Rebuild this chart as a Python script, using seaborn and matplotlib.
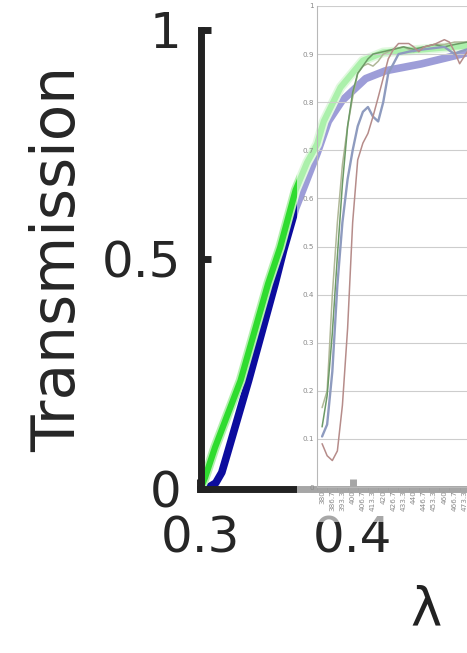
import matplotlib
matplotlib.use('Agg')
import matplotlib.pyplot as plt
import matplotlib.patheffects as pe
import seaborn as sns

# main curves (wavelength in um, transmission)
green_wl = [0.300, 0.303, 0.3095, 0.3263, 0.3444, 0.3523, 0.3625, 0.370, 0.3766,
            0.381, 0.392, 0.4066, 0.420, 0.440, 0.476]
green_t = [0.0, 0.024, 0.089, 0.235, 0.446, 0.525, 0.65, 0.71, 0.75,
           0.80, 0.874, 0.932, 0.95, 0.955, 0.965]
blue_wl = [0.300, 0.305, 0.310, 0.314, 0.318, 0.3316, 0.349, 0.3546, 0.3625, 0.3766,
           0.384, 0.393, 0.4085, 0.4215, 0.445, 0.476]
blue_t = [0.0, 0.002, 0.012, 0.035, 0.08, 0.235, 0.446, 0.519, 0.61, 0.73,
          0.80, 0.845, 0.893, 0.91, 0.925, 0.95]

x_ticks = [0.3, 0.4]
x_labels = ['0.3', '0.4']
y_ticks = [0, 0.5, 1]
y_labels = ['0', '0.5', '1']

# pasted spreadsheet chart (nm, transmission)
inset_cats = [380, 386.7, 393.3, 400, 406.7, 413.3, 420, 426.7, 433.3, 440,
              446.7, 453.3, 460, 466.7, 473.3]
inset_cat_labels = ['380', '386.7', '393.3', '400', '406.7', '413.3', '420', '426.7',
                    '433.3', '440', '446.7', '453.3', '460', '466.7', '473.3']
inset_yticks = [0, 0.1, 0.2, 0.3, 0.4, 0.5, 0.6, 0.7, 0.8, 0.9, 1]
inset_ylabels = ['0', '0.1', '0.2', '0.3', '0.4', '0.5', '0.6', '0.7', '0.8', '0.9', '1']

sage_nm = [380, 383.3, 386.7, 390, 393.3, 396.7, 400, 403.3, 406.7, 410, 413.3, 416.7,
           420, 426.7, 433.3, 440, 446.7, 453.3, 460, 466.7, 475]
sage_t = [0.165, 0.20, 0.40, 0.55, 0.67, 0.75, 0.81, 0.86, 0.875, 0.88, 0.875, 0.885,
          0.90, 0.91, 0.915, 0.905, 0.915, 0.92, 0.92, 0.925, 0.925]
dgreen_nm = [380, 383.3, 386.7, 390, 393.3, 396.7, 400, 403.3, 406.7, 410, 413.3, 420,
             426.7, 433.3, 440, 446.7, 453.3, 460, 466.7, 475]
dgreen_t = [0.125, 0.19, 0.32, 0.48, 0.63, 0.75, 0.82, 0.86, 0.875, 0.89, 0.90, 0.905,
            0.91, 0.915, 0.91, 0.915, 0.92, 0.915, 0.92, 0.925]
slate_nm = [380, 383.3, 386.7, 390, 393.3, 396.7, 400, 403.3, 406.7, 410, 413.3, 416.7,
            420, 423.3, 426.7, 430, 436.7, 446.7, 460, 466.7, 470, 475]
slate_t = [0.105, 0.13, 0.24, 0.42, 0.55, 0.64, 0.70, 0.75, 0.78, 0.79, 0.77, 0.76,
           0.80, 0.86, 0.88, 0.90, 0.905, 0.91, 0.915, 0.90, 0.905, 0.91]
brown_nm = [380, 383.3, 386.7, 390, 393.3, 396.7, 400, 403.3, 406.7, 410, 413.3, 416.7,
            420, 423.3, 426.7, 430, 436.7, 440, 443.3, 446.7, 453.3, 460, 463.3, 466.7,
            470, 475]
brown_t = [0.09, 0.065, 0.055, 0.075, 0.17, 0.33, 0.55, 0.68, 0.715, 0.735, 0.77, 0.81,
           0.85, 0.89, 0.91, 0.922, 0.922, 0.915, 0.905, 0.915, 0.92, 0.93, 0.925, 0.905,
           0.88, 0.905]

sns.set_style('ticks')
plt.rcParams['font.family'] = ['DejaVu Sans']

W, H = 467, 653
fig = plt.figure(figsize=(W / 100, H / 100), dpi=100)

ax = fig.add_axes([200.5 / W, 1 - 488.5 / H, 1 - 200.5 / W, 459 / H])
sns.lineplot(x=blue_wl, y=blue_t, ax=ax, color='#0c0c9e', lw=5.5)
sns.lineplot(x=green_wl, y=green_t, ax=ax, color='#2fdc2f', lw=4.5,
             path_effects=[pe.Stroke(linewidth=7, foreground='#b5f0b0'), pe.Normal()])
ax.set_xlim(0.3, 0.3 + 266.5 / 1522)
ax.set_ylim(0, 1)
ax.set_xticks(x_ticks)
ax.set_xticklabels(x_labels)
ax.set_yticks(y_ticks)
ax.set_yticklabels(y_labels)
ax.tick_params(direction='in', length=7, width=5, labelsize=36, color='#222222')
ax.tick_params(axis='y', pad=14)
ax.tick_params(axis='x', pad=19)
sns.despine(ax=ax)
for s in ['left', 'bottom']:
    ax.spines[s].set_linewidth(5)
    ax.spines[s].set_color('#222222')
ax.set_ylabel('Transmission', fontsize=43, labelpad=10)
fig.text(410 / W, 1 - 625 / H, 'λ', fontsize=38, color='#222222',
         ha='left', va='baseline')

# semi-transparent chart area of the pasted picture
ov = fig.add_axes([297 / W, 1 - 522 / H, 1 - 297 / W, 522 / H])
ov.set_facecolor((1, 1, 1, 0.6))
ov.set_xticks([])
ov.set_yticks([])
for s in ov.spines.values():
    s.set_visible(False)

ins = fig.add_axes([317 / W, 1 - 487 / H, 150 / W, 481 / H])
ins.patch.set_alpha(0)
sns.lineplot(x=sage_nm, y=sage_t, ax=ins, color='#b0b898', lw=1.1)
sns.lineplot(x=dgreen_nm, y=dgreen_t, ax=ins, color='#6c9a66', lw=1.1)
sns.lineplot(x=slate_nm, y=slate_t, ax=ins, color='#8e9bbf', lw=1.7)
sns.lineplot(x=brown_nm, y=brown_t, ax=ins, color='#b68c8a', lw=1.1)
ins.set_xlim(377.7, 380 + 146.5 / 1.545)
ins.set_ylim(0, 1)
ins.set_yticks(inset_yticks)
ins.set_yticklabels(inset_ylabels)
ins.set_xticks(inset_cats)
ins.set_xticklabels(inset_cat_labels, rotation=90, va='top')
ins.set_xticks([c - 3.333 for c in inset_cats], minor=True)
ins.tick_params(axis='both', which='major', length=0, labelsize=5.2,
                labelcolor='#8a8a8a', pad=2)
ins.tick_params(axis='x', which='minor', length=2.5, width=0.6, color='#a0a0a0',
                direction='out')
ins.grid(axis='y', color='#cdcdcd', lw=0.8)
ins.grid(axis='x', visible=False)
ins.set_axisbelow(True)
for s in ['top', 'right']:
    ins.spines[s].set_visible(False)
for s in ['left', 'bottom']:
    ins.spines[s].set_color('#b8b8b8')
    ins.spines[s].set_linewidth(0.8)

fig.savefig('out.png', dpi=100)
